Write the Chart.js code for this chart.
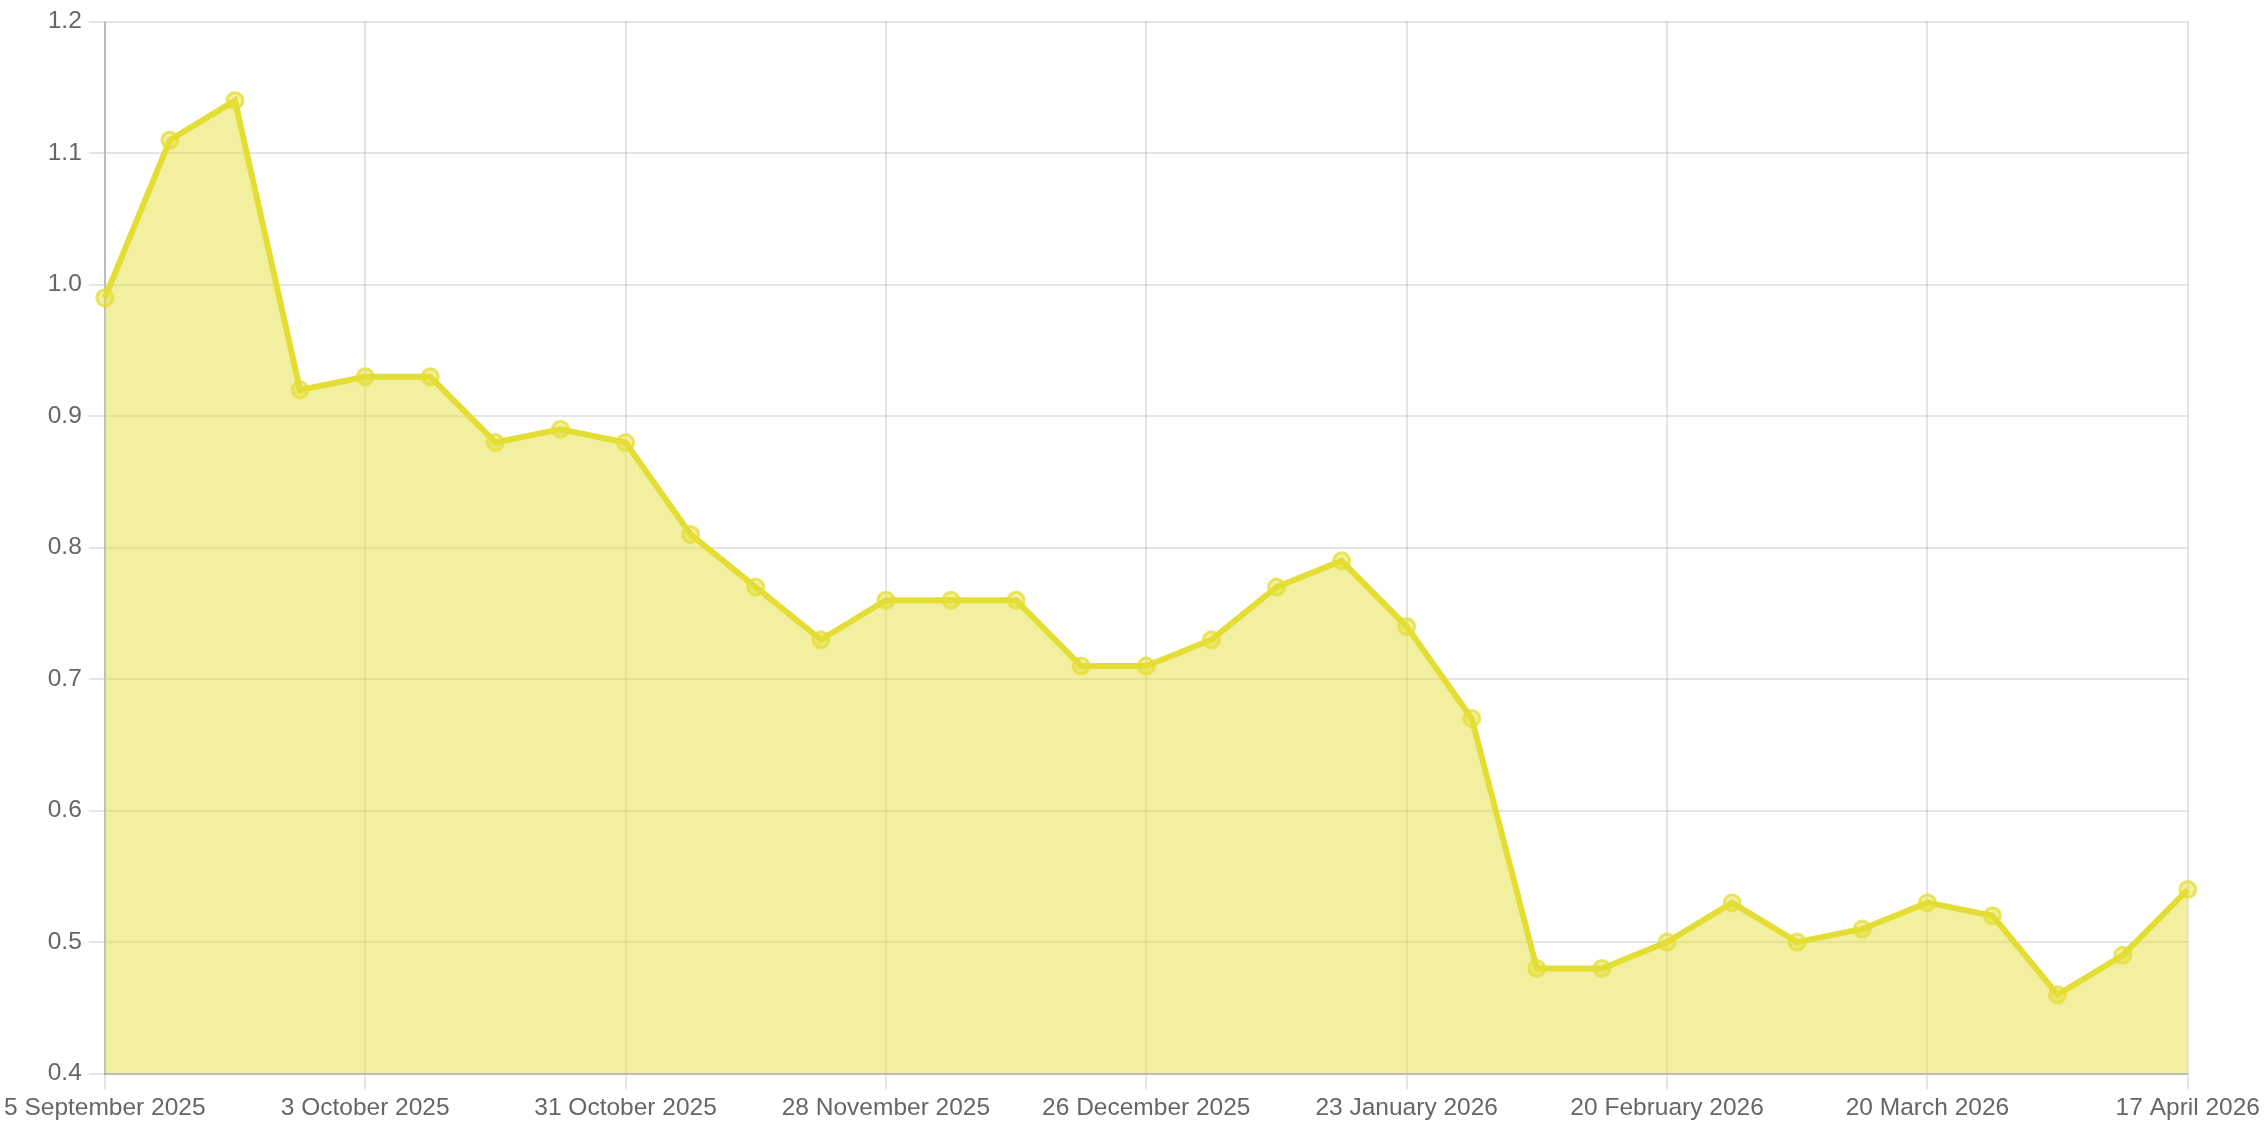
<!DOCTYPE html>
<html>
<head>
<meta charset="utf-8">
<title>Weekly value</title>
<script src="https://cdn.jsdelivr.net/npm/chart.js@4.4.1/dist/chart.umd.min.js"></script>
<style>
  html, body { margin: 0; padding: 0; background: #fff; }
  #wrap { width: 2264px; height: 1132px; position: relative; }
</style>
</head>
<body>
<div id="wrap"><canvas id="chart"></canvas></div>
<script>
const weeks = [
  '5 September 2025', '12 September 2025', '19 September 2025', '26 September 2025',
  '3 October 2025', '10 October 2025', '17 October 2025', '24 October 2025',
  '31 October 2025', '7 November 2025', '14 November 2025', '21 November 2025',
  '28 November 2025', '5 December 2025', '12 December 2025', '19 December 2025',
  '26 December 2025', '2 January 2026', '9 January 2026', '16 January 2026',
  '23 January 2026', '30 January 2026', '6 February 2026', '13 February 2026',
  '20 February 2026', '27 February 2026', '6 March 2026', '13 March 2026',
  '20 March 2026', '27 March 2026', '3 April 2026', '10 April 2026',
  '17 April 2026'
];

const values = [
  0.99, 1.11, 1.14, 0.92,
  0.93, 0.93, 0.88, 0.89,
  0.88, 0.81, 0.77, 0.73,
  0.76, 0.76, 0.76, 0.71,
  0.71, 0.73, 0.77, 0.79,
  0.74, 0.67, 0.48, 0.48,
  0.50, 0.53, 0.50, 0.51,
  0.53, 0.52, 0.46, 0.49,
  0.54
];

const yMin = 0.4;
const yMax = 1.2;
const yStep = 0.1;
const labelEvery = 4; // one x label every four weeks

const lineColor = 'rgb(228, 222, 52)';
const fillColor = 'rgba(228, 222, 52, 0.48)';
const gridColor = 'rgba(0, 0, 0, 0.1)';
const font = { family: "'Helvetica Neue', Helvetica, Arial, 'Liberation Sans', sans-serif", size: 24.5 };

const ctx = document.getElementById('chart').getContext('2d');
new Chart(ctx, {
  type: 'line',
  data: {
    labels: weeks,
    datasets: [{
      data: values,
      borderColor: lineColor,
      backgroundColor: fillColor,
      borderWidth: 6,
      fill: 'start',
      tension: 0,
      pointRadius: 8,
      pointBorderWidth: 3,
      pointBackgroundColor: fillColor,
      pointBorderColor: 'rgba(228, 222, 52, 0.75)'
    }]
  },
  options: {
    responsive: true,
    maintainAspectRatio: false,
    animation: false,
    devicePixelRatio: 1,
    layout: { padding: { top: 6, left: 7, right: 8, bottom: 5 } },
    plugins: {
      legend: { display: false },
      tooltip: { enabled: false }
    },
    scales: {
      x: {
        grid: { color: gridColor, lineWidth: 2, tickLength: 16 },
        border: { color: 'rgba(0, 0, 0, 0.18)', width: 2 },
        ticks: {
          autoSkip: false,
          maxRotation: 0,
          padding: 4,
          color: '#666',
          font,
          callback: function (value, index) {
            return index % labelEvery === 0 ? this.getLabelForValue(value) : null;
          }
        }
      },
      y: {
        min: yMin,
        max: yMax,
        grid: { color: gridColor, lineWidth: 2, tickLength: 16 },
        border: { color: 'rgba(0, 0, 0, 0.18)', width: 2 },
        ticks: {
          stepSize: yStep,
          padding: 7,
          color: '#666',
          font,
          callback: v => v.toFixed(1)
        }
      }
    }
  }
});
</script>
</body>
</html>
